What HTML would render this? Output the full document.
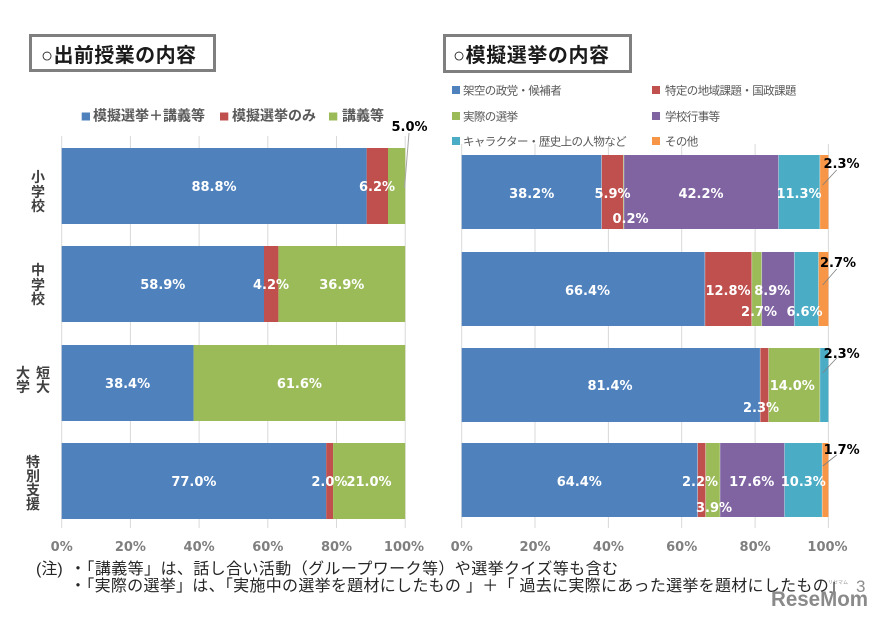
<!DOCTYPE html>
<html><head><meta charset="utf-8">
<style>
html,body{margin:0;padding:0;background:#fff;}
svg{display:block;}
.dl{font-family:"DejaVu Sans","Liberation Sans",sans-serif;font-weight:bold;font-size:13px;fill:#fff;text-anchor:middle;}
.bl{font-family:"DejaVu Sans","Liberation Sans",sans-serif;font-weight:bold;font-size:13px;fill:#000;text-anchor:middle;}
.tk{font-family:"DejaVu Sans","Liberation Sans",sans-serif;font-weight:bold;font-size:13px;fill:#7f7f7f;text-anchor:middle;}
.cat{font-family:"Liberation Sans","Noto Sans CJK JP",sans-serif;font-weight:bold;font-size:14px;fill:#404040;text-anchor:middle;}
.lg{font-family:"Liberation Sans","Noto Sans CJK JP",sans-serif;font-weight:bold;font-size:14px;fill:#595959;}
.lg2{font-family:"Liberation Sans","Noto Sans CJK JP",sans-serif;font-size:11.5px;fill:#595959;letter-spacing:-0.6px;}
.ttl{font-family:"Liberation Sans","Noto Sans CJK JP",sans-serif;font-weight:bold;font-size:20px;fill:#1a1a1a;}
.note{font-family:"Liberation Sans","Noto Sans CJK JP",sans-serif;font-size:16px;fill:#262626;}
</style></head>
<body>
<svg width="881" height="624" viewBox="0 0 881 624" xmlns="http://www.w3.org/2000/svg">
<rect width="881" height="624" fill="#fff"/>

<!-- Titles -->
<rect x="30.5" y="35.5" width="184" height="35" fill="#fff" stroke="#7f7f7f" stroke-width="3"/>
<text class="ttl" x="41" y="62" textLength="155" lengthAdjust="spacing">○出前授業の内容</text>
<rect x="444.5" y="35.5" width="186" height="36" fill="#fff" stroke="#7f7f7f" stroke-width="3"/>
<text class="ttl" x="453" y="62" textLength="156" lengthAdjust="spacing">○模擬選挙の内容</text>

<!-- Left legend -->
<rect x="81.7" y="112.5" width="8.3" height="8" fill="#4F81BD"/>
<text class="lg" x="93" y="120.3">模擬選挙＋講義等</text>
<rect x="220" y="112.5" width="8.3" height="8" fill="#C0504D"/>
<text class="lg" x="232" y="120.3">模擬選挙のみ</text>
<rect x="329" y="112.5" width="8.3" height="8" fill="#9BBB59"/>
<text class="lg" x="342" y="120.3">講義等</text>

<!-- Right legend -->
<rect x="452" y="86" width="8" height="8" fill="#4F81BD"/>
<text class="lg2" x="463" y="94.4">架空の政党・候補者</text>
<rect x="652" y="86" width="8" height="8" fill="#C0504D"/>
<text class="lg2" x="665" y="94.4">特定の地域課題・国政課題</text>
<rect x="452" y="112" width="8" height="8" fill="#9BBB59"/>
<text class="lg2" x="463" y="120.4">実際の選挙</text>
<rect x="652" y="112" width="8" height="8" fill="#8064A2"/>
<text class="lg2" x="665" y="120.4">学校行事等</text>
<rect x="452" y="137" width="8" height="8" fill="#4BACC6"/>
<text class="lg2" x="463" y="145.4">キャラクター・歴史上の人物など</text>
<rect x="652" y="137" width="8" height="8" fill="#F79646"/>
<text class="lg2" x="665" y="145.4">その他</text>

<!-- Left gridlines -->
<g stroke="#d9d9d9" stroke-width="1">
<line x1="61.7" y1="136" x2="61.7" y2="528"/>
<line x1="130.4" y1="136" x2="130.4" y2="528"/>
<line x1="199.1" y1="136" x2="199.1" y2="528"/>
<line x1="267.8" y1="136" x2="267.8" y2="528"/>
<line x1="336.5" y1="136" x2="336.5" y2="528"/>
<line x1="405.2" y1="136" x2="405.2" y2="528"/>
</g>
<!-- Right gridlines -->
<g stroke="#d9d9d9" stroke-width="1">
<line x1="461.7" y1="144" x2="461.7" y2="528"/>
<line x1="535.0" y1="144" x2="535.0" y2="528"/>
<line x1="608.4" y1="144" x2="608.4" y2="528"/>
<line x1="681.7" y1="144" x2="681.7" y2="528"/>
<line x1="755.1" y1="144" x2="755.1" y2="528"/>
<line x1="828.4" y1="144" x2="828.4" y2="528"/>
</g>

<!-- Left bars -->
<g>
<rect x="61.7" y="148" width="305.0" height="76" fill="#4F81BD"/>
<rect x="366.7" y="148" width="21.3" height="76" fill="#C0504D"/>
<rect x="388.0" y="148" width="17.2" height="76" fill="#9BBB59"/>

<rect x="61.7" y="246" width="202.3" height="76" fill="#4F81BD"/>
<rect x="264.0" y="246" width="14.4" height="76" fill="#C0504D"/>
<rect x="278.4" y="246" width="126.8" height="76" fill="#9BBB59"/>

<rect x="61.7" y="345" width="131.9" height="76" fill="#4F81BD"/>
<rect x="193.6" y="345" width="211.6" height="76" fill="#9BBB59"/>

<rect x="61.7" y="443" width="264.5" height="76" fill="#4F81BD"/>
<rect x="326.2" y="443" width="6.9" height="76" fill="#C0504D"/>
<rect x="333.1" y="443" width="72.1" height="76" fill="#9BBB59"/>
</g>

<!-- Left labels -->
<text class="dl" x="214" y="191">88.8%</text>
<text class="dl" x="377" y="191">6.2%</text>
<line x1="404.5" y1="188" x2="409" y2="133" stroke="#a6a6a6" stroke-width="1"/>
<text class="bl" x="409.5" y="131">5.0%</text>

<text class="dl" x="162.8" y="289">58.9%</text>
<text class="dl" x="271" y="289">4.2%</text>
<text class="dl" x="341.8" y="289">36.9%</text>

<text class="dl" x="127.6" y="388">38.4%</text>
<text class="dl" x="299.4" y="388">61.6%</text>

<text class="dl" x="193.9" y="486">77.0%</text>
<text class="dl" x="329.4" y="486">2.0%</text>
<text class="dl" x="369" y="486">21.0%</text>

<!-- Right bars -->
<g>
<rect x="461.7" y="155" width="139.9" height="74" fill="#4F81BD"/>
<rect x="601.6" y="155" width="21.6" height="74" fill="#C0504D"/>
<rect x="623.2" y="155" width="0.7" height="74" fill="#9BBB59"/>
<rect x="623.9" y="155" width="154.6" height="74" fill="#8064A2"/>
<rect x="778.5" y="155" width="41.4" height="74" fill="#4BACC6"/>
<rect x="819.9" y="155" width="8.5" height="74" fill="#F79646"/>

<rect x="461.7" y="252" width="243.2" height="74" fill="#4F81BD"/>
<rect x="704.9" y="252" width="46.9" height="74" fill="#C0504D"/>
<rect x="751.8" y="252" width="9.9" height="74" fill="#9BBB59"/>
<rect x="761.7" y="252" width="32.6" height="74" fill="#8064A2"/>
<rect x="794.3" y="252" width="24.2" height="74" fill="#4BACC6"/>
<rect x="818.5" y="252" width="9.9" height="74" fill="#F79646"/>

<rect x="461.7" y="348" width="298.5" height="74" fill="#4F81BD"/>
<rect x="760.2" y="348" width="8.4" height="74" fill="#C0504D"/>
<rect x="768.6" y="348" width="51.3" height="74" fill="#9BBB59"/>
<rect x="819.9" y="348" width="8.5" height="74" fill="#4BACC6"/>

<rect x="461.7" y="443" width="235.9" height="74" fill="#4F81BD"/>
<rect x="697.6" y="443" width="8.1" height="74" fill="#C0504D"/>
<rect x="705.7" y="443" width="14.3" height="74" fill="#9BBB59"/>
<rect x="720.0" y="443" width="64.5" height="74" fill="#8064A2"/>
<rect x="784.5" y="443" width="37.7" height="74" fill="#4BACC6"/>
<rect x="822.2" y="443" width="6.2" height="74" fill="#F79646"/>
</g>
<g stroke="#ffffff" stroke-opacity="0.5" stroke-width="0.7">
<line x1="601.6" y1="155" x2="601.6" y2="229"/><line x1="623.9" y1="155" x2="623.9" y2="229"/><line x1="778.5" y1="155" x2="778.5" y2="229"/><line x1="819.9" y1="155" x2="819.9" y2="229"/>
<line x1="704.9" y1="252" x2="704.9" y2="326"/><line x1="751.8" y1="252" x2="751.8" y2="326"/><line x1="761.7" y1="252" x2="761.7" y2="326"/><line x1="794.3" y1="252" x2="794.3" y2="326"/><line x1="818.5" y1="252" x2="818.5" y2="326"/>
<line x1="760.2" y1="348" x2="760.2" y2="422"/><line x1="768.6" y1="348" x2="768.6" y2="422"/><line x1="819.9" y1="348" x2="819.9" y2="422"/>
<line x1="697.6" y1="443" x2="697.6" y2="517"/><line x1="705.7" y1="443" x2="705.7" y2="517"/><line x1="720.0" y1="443" x2="720.0" y2="517"/><line x1="784.5" y1="443" x2="784.5" y2="517"/><line x1="822.2" y1="443" x2="822.2" y2="517"/>
</g>

<!-- Right labels -->
<text class="dl" x="531.7" y="198">38.2%</text>
<text class="dl" x="612.5" y="198">5.9%</text>
<text class="dl" x="630.5" y="223">0.2%</text>
<text class="dl" x="701" y="198">42.2%</text>
<text class="dl" x="799" y="198">11.3%</text>
<line x1="822.7" y1="185" x2="836.7" y2="170" stroke="#7f7f7f" stroke-width="0.8"/>
<text class="bl" x="841.5" y="168">2.3%</text>

<text class="dl" x="587.5" y="295">66.4%</text>
<text class="dl" x="728" y="295">12.8%</text>
<text class="dl" x="759" y="316">2.7%</text>
<text class="dl" x="772.3" y="295">8.9%</text>
<text class="dl" x="804.5" y="316">6.6%</text>
<line x1="822.7" y1="285" x2="836.7" y2="269" stroke="#7f7f7f" stroke-width="0.8"/>
<text class="bl" x="838" y="267">2.7%</text>

<text class="dl" x="610" y="390">81.4%</text>
<text class="dl" x="761" y="412">2.3%</text>
<text class="dl" x="792.3" y="390">14.0%</text>
<line x1="822.7" y1="373" x2="836.7" y2="358" stroke="#7f7f7f" stroke-width="0.8"/>
<text class="bl" x="841.7" y="358">2.3%</text>

<text class="dl" x="579.3" y="486">64.4%</text>
<text class="dl" x="700" y="486">2.2%</text>
<text class="dl" x="751.7" y="486">17.6%</text>
<text class="dl" x="803.3" y="486">10.3%</text>
<text class="dl" x="714" y="512">3.9%</text>
<line x1="822.7" y1="466" x2="836.7" y2="455" stroke="#7f7f7f" stroke-width="0.8"/>
<text class="bl" x="841.7" y="454">1.7%</text>

<!-- Category labels -->
<text class="cat" x="38" y="182">小</text>
<text class="cat" x="38" y="197">学</text>
<text class="cat" x="38" y="211">校</text>
<text class="cat" x="38" y="275">中</text>
<text class="cat" x="38" y="290">学</text>
<text class="cat" x="38" y="304">校</text>
<text class="cat" x="23" y="378">大</text>
<text class="cat" x="23" y="392">学</text>
<text class="cat" x="43" y="378">短</text>
<text class="cat" x="43" y="392">大</text>
<text class="cat" x="33" y="467">特</text>
<text class="cat" x="33" y="481">別</text>
<text class="cat" x="33" y="495">支</text>
<text class="cat" x="33" y="509">援</text>

<!-- Tick labels -->
<text class="tk" x="61.7" y="551">0%</text>
<text class="tk" x="130.4" y="551">20%</text>
<text class="tk" x="199.1" y="551">40%</text>
<text class="tk" x="267.8" y="551">60%</text>
<text class="tk" x="336.5" y="551">80%</text>
<text class="tk" x="404" y="551">100%</text>

<text class="tk" x="461.7" y="551">0%</text>
<text class="tk" x="535.0" y="551">20%</text>
<text class="tk" x="608.4" y="551">40%</text>
<text class="tk" x="681.7" y="551">60%</text>
<text class="tk" x="755.1" y="551">80%</text>
<text class="tk" x="827.5" y="551">100%</text>

<!-- Notes -->
<text class="note" x="36" y="574">(注)</text>
<text class="note" x="70" y="574" textLength="548" lengthAdjust="spacing">・「講義等」は、話し合い活動（グループワーク等）や選挙クイズ等も含む</text>
<text class="note" x="70" y="591" textLength="775" lengthAdjust="spacing">・「実際の選挙」は、「実施中の選挙を題材にしたもの 」＋「 過去に実際にあった選挙を題材にしたもの」</text>
<text x="856" y="592" font-family="Liberation Sans, sans-serif" font-size="17" fill="#8c8c8c">3</text>
<text x="828" y="584" font-family="Liberation Sans, Noto Sans CJK JP, sans-serif" font-size="5" fill="#999">リセマム</text>
<text x="771" y="606" font-family="Liberation Sans, sans-serif" font-weight="bold" font-size="21" fill="#8a8a8a" textLength="97" lengthAdjust="spacingAndGlyphs">ReseMom</text>
</svg>
</body></html>
